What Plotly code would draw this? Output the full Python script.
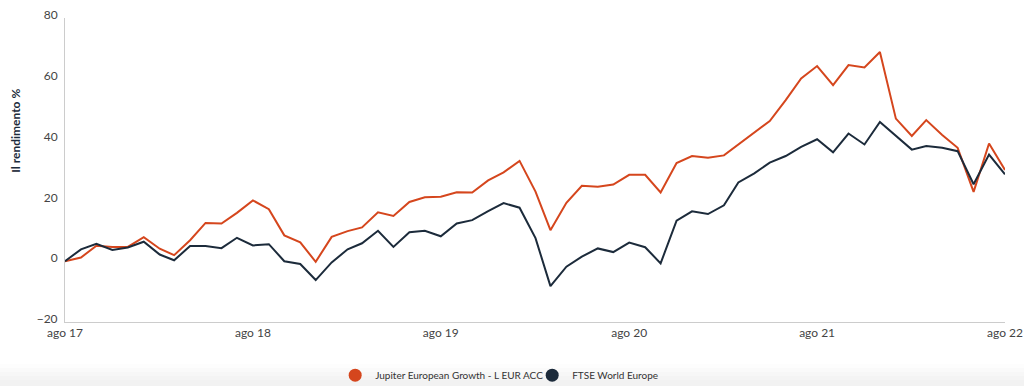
import plotly.graph_objects as go
import pandas as pd

months = pd.date_range("2017-08-01", "2022-08-01", freq="MS")

jupiter = [0.0, 1.2, 5.1, 4.7, 4.7, 7.9, 4.1, 2.0, 6.9, 12.6, 12.4, 15.9,
           20.0, 17.1, 8.5, 6.2, -0.2, 8.0, 9.9, 11.1, 16.1, 14.9, 19.5, 21.0,
           21.2, 22.7, 22.6, 26.6, 29.2, 33.0, 22.9, 10.2, 19.2, 24.8, 24.5, 25.2,
           28.4, 28.4, 22.6, 32.3, 34.6, 34.0, 34.8, 38.4, 42.2, 46.1, 53.0, 60.1,
           64.2, 57.9, 64.5, 63.7, 68.8, 46.9, 41.2, 46.4, 41.5, 37.3, 22.8, 38.7, 30.0]

ftse = [0.0, 3.9, 5.7, 3.7, 4.5, 6.4, 2.2, 0.3, 5.0, 5.0, 4.3, 7.7,
        5.2, 5.6, 0.0, -0.9, -6.2, -0.4, 3.9, 5.9, 10.0, 4.7, 9.5, 10.0,
        8.2, 12.4, 13.5, 16.5, 19.1, 17.6, 7.6, -8.2, -1.8, 1.5, 4.2, 3.0,
        6.1, 4.6, -0.7, 13.3, 16.4, 15.5, 18.4, 25.9, 28.9, 32.4, 34.6, 37.6,
        40.1, 35.8, 42.0, 38.4, 45.8, 41.2, 36.7, 37.9, 37.3, 36.2, 25.3, 35.1, 28.6]

tick_vals = [months[0], months[12], months[24], months[36], months[48], months[60]]
tick_text = ["ago 17", "ago 18", "ago 19", "ago 20", "ago 21", "ago 22"]

ORANGE = "#d5461d"
NAVY = "#1c2b3b"
FONT = "Lato"

fig = go.Figure()
fig.add_trace(go.Scatter(x=months, y=jupiter, mode="lines",
                         line=dict(color=ORANGE, width=2), showlegend=False,
                         name="Jupiter European Growth - L EUR ACC"))
fig.add_trace(go.Scatter(x=months, y=ftse, mode="lines",
                         line=dict(color=NAVY, width=2), showlegend=False,
                         name="FTSE World Europe"))
fig.add_trace(go.Scatter(x=[None], y=[None], mode="markers",
                         marker=dict(color=ORANGE, size=13, symbol="circle"),
                         name="Jupiter European Growth - L EUR ACC"))
fig.add_trace(go.Scatter(x=[None], y=[None], mode="markers",
                         marker=dict(color=NAVY, size=13, symbol="circle"),
                         name="FTSE World Europe"))

# soft grey band at the bottom of the page
greys = ["#fdfdfd", "#fafafa", "#f7f7f7", "#f4f4f4", "#f2f2f2"]
for i, c in enumerate(greys):
    y_top = 364 + i * 4
    y_bot = y_top + 4 if i < 4 else 400
    fig.add_shape(type="rect", xref="paper", yref="paper",
                  x0=-0.07, x1=1.03,
                  y0=-(y_top - 322) / 304, y1=-(y_bot - 322) / 304,
                  fillcolor=c, line=dict(width=0), layer="below")

fig.add_annotation(text="<b>Il rendimento %</b>", textangle=-90,
                   xref="paper", yref="paper", x=-0.053, y=0.63,
                   xanchor="center", yanchor="middle",
                   showarrow=False, font=dict(family=FONT, size=12, color="#1c2b3b"))

fig.update_layout(
    width=1024, height=386,
    margin=dict(l=65, r=19, t=18, b=64, autoexpand=False),
    paper_bgcolor="white", plot_bgcolor="white",
    font=dict(family=FONT, size=12, color="#444"),
    xaxis=dict(range=[months[0], months[60]], tickvals=tick_vals, ticktext=tick_text,
               showgrid=False, zeroline=False, showline=True, linecolor="#cccccc",
               linewidth=1, ticks="", automargin=False, tickfont=dict(size=12, color="#444")),
    yaxis=dict(range=[-20, 80], tickvals=[-20, 0, 20, 40, 60, 80],
               showgrid=False, zeroline=False, showline=True, linecolor="#cccccc",
               linewidth=1, ticks="", ticklabelshift=-3, ticklabelstandoff=4,
               automargin=False, tickfont=dict(size=12, color="#444")),
    legend=dict(orientation="h", x=0.497, xanchor="center", y=-0.175, yanchor="middle",
                font=dict(family=FONT, size=10, color="#333"), bgcolor="rgba(0,0,0,0)",
                itemsizing="trace", entrywidth=152, entrywidthmode="pixels"),
)

fig.write_html("out.html", config={"displayModeBar": False},
               post_script="document.body.style.margin='0px';")
